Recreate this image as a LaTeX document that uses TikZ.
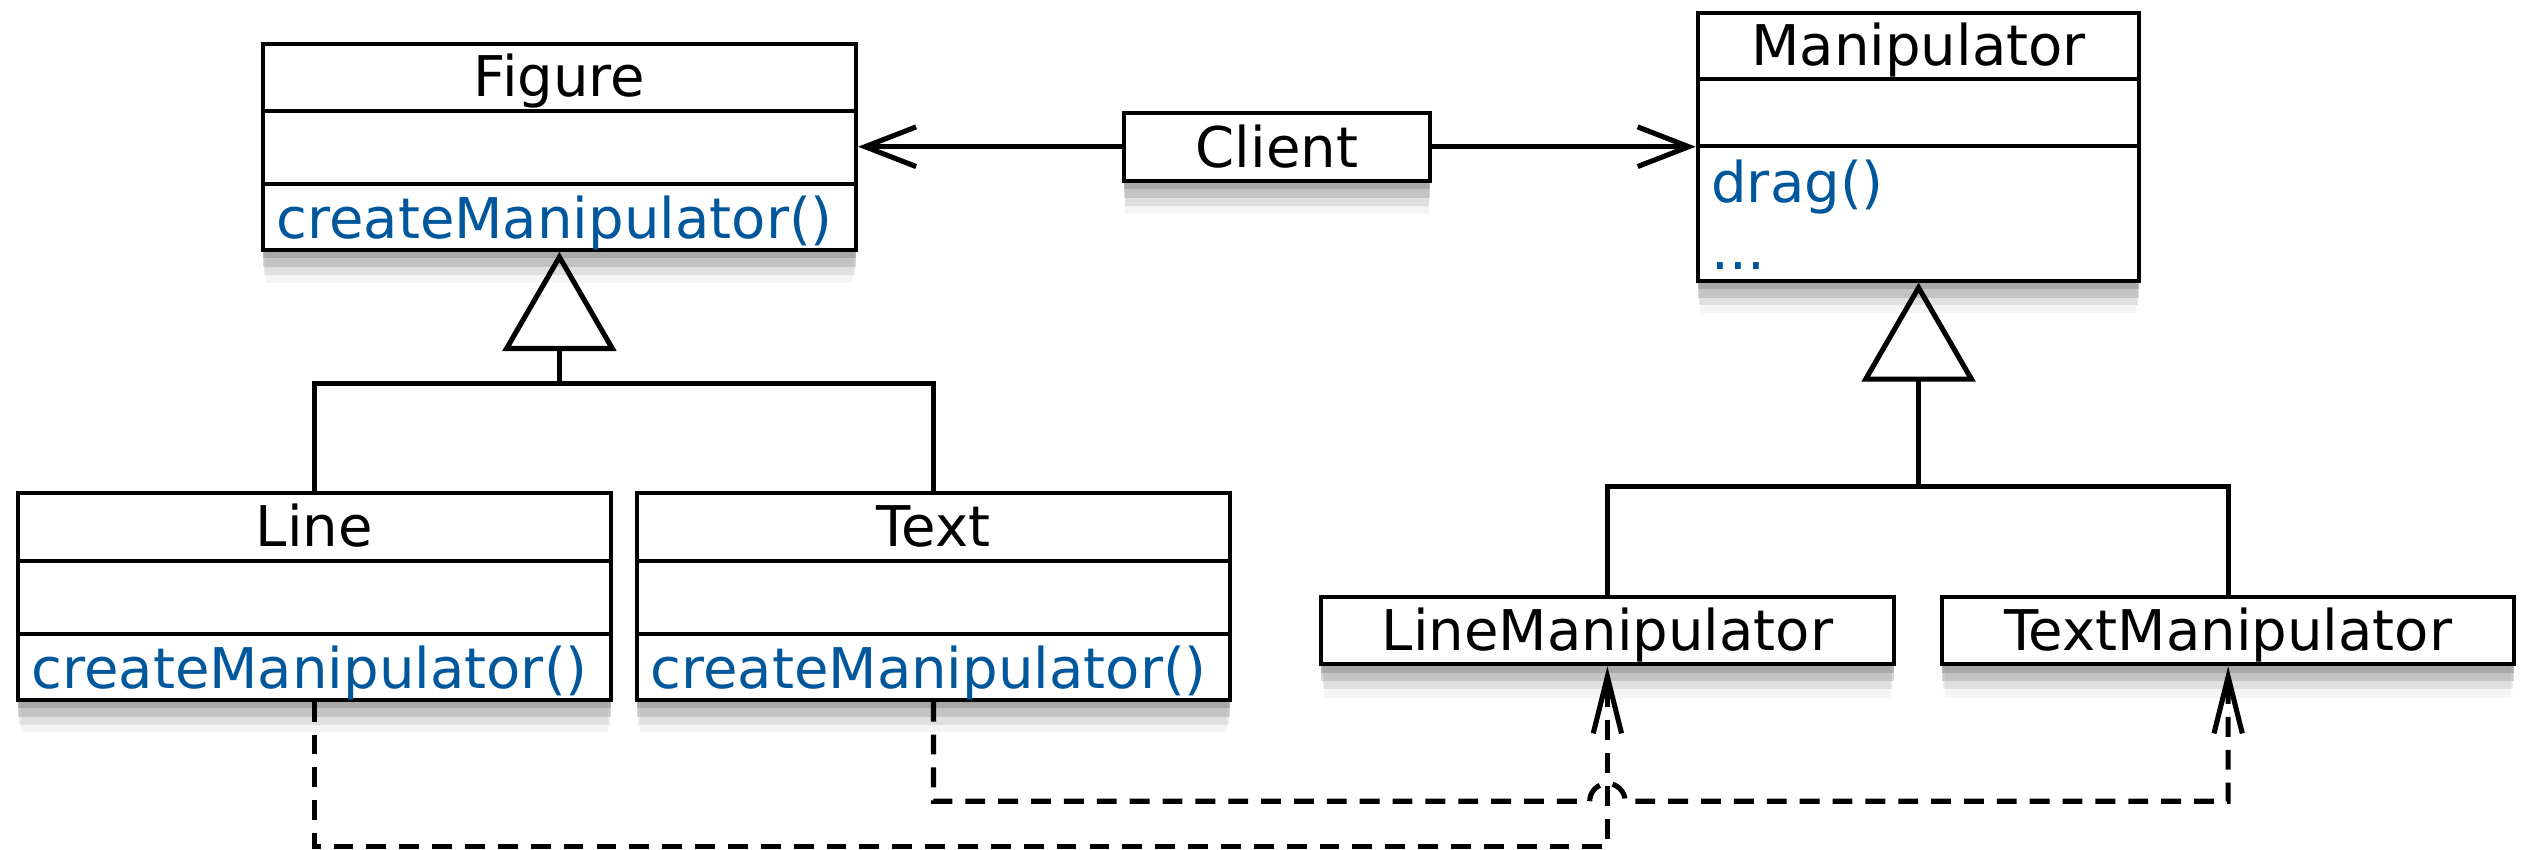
\documentclass[tikz,border=0pt]{standalone}
\usepackage{fontspec}
\setmainfont{DejaVu Sans}
\usepackage{xcolor}
\usepackage{tikz}
\usetikzlibrary{arrows.meta,positioning,calc,shadows}
\definecolor{umlblue}{RGB}{0,87,155}

\begin{document}
\begin{tikzpicture}[
    x=0.1mm, y=0.1mm,
    font=\fontsize{9.9}{12}\selectfont,
    classbox/.style={draw, line width=0.7pt, fill=white, inner sep=0pt,
        drop shadow={shadow xshift=0pt, shadow yshift=-1.5pt, opacity=0.4},
        drop shadow={shadow xshift=0pt, shadow yshift=-3pt, opacity=0.3},
        drop shadow={shadow xshift=0pt, shadow yshift=-4.5pt, shadow scale=0.995, opacity=0.18},
        drop shadow={shadow xshift=0pt, shadow yshift=-6pt, shadow scale=0.99, opacity=0.08}},
    divider/.style={line width=0.7pt},
    title/.style={inner sep=0pt, text height=9.5pt, text depth=2.3pt},
    method/.style={title, anchor=west, text=umlblue},
    assoc/.style={line width=0.9pt, -{Straight Barb[length=9pt, width=7pt]}},
    inherit/.style={line width=0.9pt, -{Triangle[open, length=17.5pt, width=20pt]}},
    tree/.style={line width=0.9pt},
    dep/.style={line width=0.9pt, dash pattern=on 3.5pt off 2.3pt, -{Straight Barb[length=10pt, width=5pt]}}
]
    \useasboundingbox (0,0) rectangle (1568,527);

    % Figure side
    \foreach \name/\x/\y/\title in {fig/347/436/Figure, line/195/157/Line, txt/579/157/Text} {
        \node[classbox, minimum width=3.68cm, minimum height=1.28cm] (\name) at (\x,\y) {};
        \draw[divider] ($(\name.north west)+(0,-43)$) -- ($(\name.north east)+(0,-43)$);
        \draw[divider] ($(\name.south west)+(0,42)$) -- ($(\name.south east)+(0,42)$);
        \node[title] (\name-title) at ($(\name.north)+(0,-21.5)$) {\title};
        \node[method] (\name-op) at ($(\name.south west)+(9,21)$) {createManipulator()};
    }

    % Manipulator side
    \node[classbox, minimum width=2.74cm, minimum height=1.66cm] (manip) at (1190,436) {};
    \draw[divider] ($(manip.north west)+(0,-42)$) -- ($(manip.north east)+(0,-42)$);
    \draw[divider] ($(manip.north west)+(0,-84)$) -- ($(manip.north east)+(0,-84)$);
    \node[title] (manip-title) at ($(manip.north)+(0,-21)$) {Manipulator};
    \node[method] (manip-op1) at ($(manip.north west)+(9,-106)$) {drag()};
    \node[method] (manip-op2) at ($(manip.north west)+(9,-148)$) {...};

    \foreach \name/\x/\title in {linemanip/997/LineManipulator, textmanip/1382/TextManipulator} {
        \node[classbox, title, minimum width=3.55cm, minimum height=0.42cm] (\name) at (\x,136) {\title};
    }

    % Client
    \node[classbox, title, minimum width=1.9cm, minimum height=0.42cm] (client) at (792,436) {Client};
    \draw[assoc] (client) -- (fig);
    \draw[assoc] (client) -- (manip);

    % Inheritance
    \coordinate (figjoin) at (347,289);
    \draw[inherit] (figjoin) -- (fig);
    \draw[tree] (line) |- (figjoin) -| (txt);
    \coordinate (manipjoin) at (1190,225);
    \draw[inherit] (manipjoin) -- (manip);
    \draw[tree] (linemanip) |- (manipjoin) -| (textmanip);

    % Creates
    \coordinate (hop) at (997,30);
    \draw[dep] (line.south) -- ++(0,-90) -| (linemanip);
    \draw[dep] (txt.south) |- ($(hop)+(-11,0)$) arc[start angle=180, end angle=0, radius=1.1mm] -| (textmanip);
\end{tikzpicture}
\end{document}
